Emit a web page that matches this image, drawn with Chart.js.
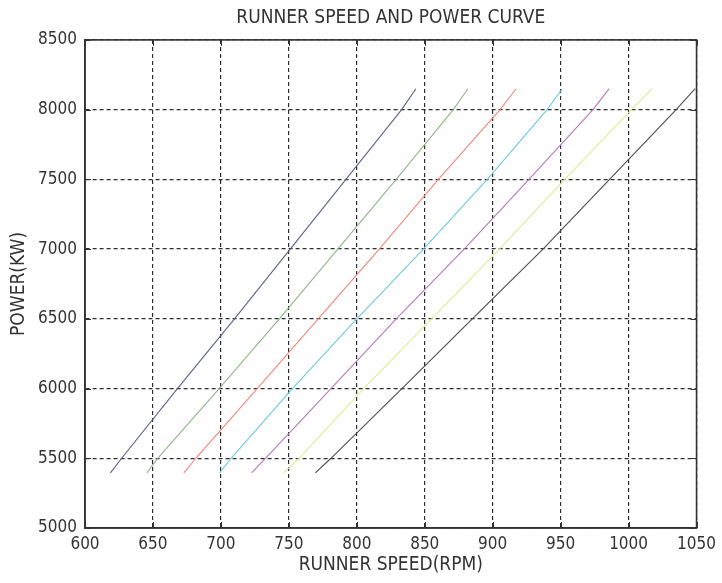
<!DOCTYPE html>
<html>
<head>
<meta charset="utf-8">
<title>Runner speed and power curve</title>
<script src="https://cdn.jsdelivr.net/npm/chart.js@4.4.1/dist/chart.umd.min.js"></script>
<style>
  html, body { margin: 0; padding: 0; background: #fff; }
  #wrap { width: 722px; height: 583px; }
</style>
</head>
<body>
<div id="wrap"><canvas id="powerChart"></canvas></div>
<script>
// power levels (kW) sampled along every curve
var powerLevels = [5395, 5500, 6000, 6500, 7000, 7500, 8000, 8150];

// runner speed (rpm) of each curve at those power levels
var speed1 = [618.7, 627.0, 668.0, 710.0, 751.0, 792.0, 833.0, 843.5];
var speed2 = [645.5, 653.5, 698.7, 743.0, 786.0, 829.0, 871.0, 881.8];
var speed3 = [672.8, 681.5, 726.7, 771.6, 816.5, 860.0, 905.4, 917.2];
var speed4 = [699.0, 707.5, 752.6, 800.0, 849.0, 896.0, 940.0, 951.2];
var speed5 = [722.6, 732.8, 781.0, 829.0, 879.0, 926.7, 973.8, 985.7];
var speed6 = [746.2, 757.5, 805.0, 855.0, 905.0, 953.0, 1002.0, 1017.4];
var speed7 = [769.5, 781.0, 833.2, 885.0, 937.0, 986.0, 1035.0, 1049.0];

var speedTicks = [600, 650, 700, 750, 800, 850, 900, 950, 1000, 1050];
var powerTicks = [5000, 5500, 6000, 6500, 7000, 7500, 8000, 8500];

var curveColors = ['#5e6285', '#8fb58a', '#f2877a', '#6cc9e2', '#b679b8', '#e2ea95', '#4d4d4d'];

function toPoints(speeds) {
    return speeds.map(function (s, i) { return { x: s, y: powerLevels[i] }; });
}

var allSpeeds = [speed1, speed2, speed3, speed4, speed5, speed6, speed7];
var datasets = allSpeeds.map(function (speeds, i) {
    return {
        label: 'curve ' + (i + 1),
        data: toPoints(speeds),
        showLine: true,
        borderColor: curveColors[i],
        backgroundColor: curveColors[i],
        borderWidth: 1.1,
        pointRadius: 0,
        tension: 0
    };
});

var labelFont = "'Liberation Sans Narrow', 'DejaVu Sans Condensed', 'Liberation Sans', sans-serif";

// plain numbers, no thousands separator
function plainTick(value) { return String(value); }

// frame around the plot area with short inward tick marks on all four sides
var frameBox = {
    id: 'frameBox',
    afterDraw: function (chart) {
        var ctx = chart.ctx, a = chart.chartArea;
        var xs = chart.scales.x, ys = chart.scales.y;
        ctx.save();
        ctx.strokeStyle = '#333';
        ctx.lineWidth = 1.6;
        ctx.strokeRect(a.left, a.top, a.right - a.left, a.bottom - a.top);
        ctx.lineWidth = 1;
        ctx.beginPath();
        xs.ticks.forEach(function (t) {
            var px = Math.round(xs.getPixelForValue(t.value)) + 0.5;
            ctx.moveTo(px, a.bottom); ctx.lineTo(px, a.bottom - 6);
            ctx.moveTo(px, a.top); ctx.lineTo(px, a.top + 6);
        });
        ys.ticks.forEach(function (t) {
            var py = Math.round(ys.getPixelForValue(t.value)) + 0.5;
            ctx.moveTo(a.left, py); ctx.lineTo(a.left + 6, py);
            ctx.moveTo(a.right, py); ctx.lineTo(a.right - 6, py);
        });
        ctx.stroke();
        ctx.restore();
    }
};

new Chart(document.getElementById('powerChart').getContext('2d'), {
    type: 'scatter',
    data: { datasets: datasets },
    plugins: [frameBox],
    options: {
        responsive: true,
        maintainAspectRatio: false,
        animation: false,
        layout: { padding: { left: 0, right: 22, top: 0, bottom: 0 } },
        plugins: {
            legend: { display: false },
            tooltip: { enabled: false },
            title: {
                display: true,
                fullSize: false,
                text: 'RUNNER SPEED AND POWER CURVE',
                color: '#333',
                font: { family: labelFont, size: 19, weight: 'normal', lineHeight: 1.1 },
                padding: { top: 8, bottom: 11 }
            }
        },
        scales: {
            x: {
                type: 'linear',
                min: speedTicks[0],
                max: speedTicks[speedTicks.length - 1],
                afterBuildTicks: function (scale) {
                    scale.ticks = speedTicks.map(function (v) { return { value: v }; });
                },
                afterFit: function (scale) { scale.height = 55; },
                grid: { color: '#2e2e2e', lineWidth: 1.2, drawTicks: false },
                border: { display: true, color: '#333', width: 1.6, dash: [4, 3] },
                ticks: {
                    color: '#333',
                    padding: 6,
                    maxRotation: 0,
                    callback: plainTick,
                    font: { family: labelFont, size: 17 }
                },
                title: {
                    display: true,
                    text: 'RUNNER SPEED(RPM)',
                    color: '#333',
                    font: { family: labelFont, size: 19, lineHeight: 1.1 },
                    padding: { top: 0, bottom: 7 }
                }
            },
            y: {
                type: 'linear',
                min: powerTicks[0],
                max: powerTicks[powerTicks.length - 1],
                afterBuildTicks: function (scale) {
                    scale.ticks = powerTicks.map(function (v) { return { value: v }; });
                },
                afterFit: function (scale) { scale.width = 85; },
                grid: { color: '#2e2e2e', lineWidth: 1.2, drawTicks: false },
                border: { display: true, color: '#333', width: 1.6, dash: [4, 3] },
                ticks: {
                    color: '#333',
                    padding: 8,
                    callback: plainTick,
                    font: { family: labelFont, size: 17 }
                },
                title: {
                    display: true,
                    text: 'POWER(KW)',
                    color: '#333',
                    font: { family: labelFont, size: 19, lineHeight: 1.1 },
                    padding: { top: 9, bottom: 0 }
                }
            }
        }
    }
});
</script>
</body>
</html>
